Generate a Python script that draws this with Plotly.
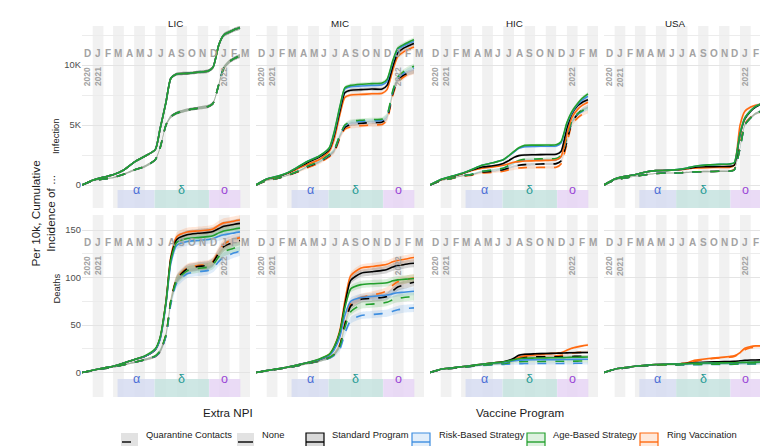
import pandas as pd
import plotly.graph_objects as go
from plotly.subplots import make_subplots

# sample dates of the cumulative curves
dates = ['2020-12-01', '2021-01-01', '2021-02-01', '2021-03-01', '2021-04-01',
         '2021-05-01', '2021-06-01', '2021-07-01', '2021-07-15', '2021-08-01',
         '2021-08-15', '2021-09-01', '2021-10-01', '2021-11-01', '2021-12-01',
         '2021-12-15', '2022-01-01', '2022-01-15', '2022-02-01', '2022-02-15',
         '2022-03-03']

regions = ['LIC', 'MIC', 'HIC', 'USA']
measures = ['Infection', 'Deaths']
programs = ['Standard Program', 'Risk-Based Strategy', 'Age-Based Strategy', 'Ring Vaccination']
npis = ['Quarantine Contacts', 'None']

month_starts = ['2020-12-01', '2021-01-01', '2021-02-01', '2021-03-01', '2021-04-01',
                '2021-05-01', '2021-06-01', '2021-07-01', '2021-08-01', '2021-09-01',
                '2021-10-01', '2021-11-01', '2021-12-01', '2022-01-01', '2022-02-01',
                '2022-03-01', '2022-04-01']
month_letters = ['D', 'J', 'F', 'M', 'A', 'M', 'J', 'J', 'A', 'S', 'O', 'N', 'D', 'J', 'F', 'M']
shaded_months = [1, 3, 5, 7, 9, 11, 13, 15]
year_labels = ['2020', '2021', '2022']
year_month_idx = [0, 1, 13]

variants = ['α', 'δ', 'ο']
variant_start = ['2021-03-14', '2021-06-29', '2021-12-04']
variant_end = ['2021-06-29', '2021-12-04', '2022-03-04']

# ---- infection, per 10k ----
lic_inf = [0, 400, 650, 850, 1250, 1900, 2400, 2950, 4700, 6900, 8900, 9250, 9300, 9400, 9500, 9800, 11700, 12500, 12750, 12950, 13100]
lic_inf_q = [0, 350, 500, 620, 900, 1250, 1550, 2100, 3100, 5000, 5700, 6000, 6250, 6400, 6550, 6800, 8400, 9750, 10300, 10550, 10750]
lic_inf_band = [0, 30, 40, 50, 60, 80, 90, 100, 110, 120, 130, 130, 130, 130, 140, 140, 150, 160, 160, 160, 160]

mic_inf_std = [0, 490, 700, 980, 1450, 1900, 2300, 2950, 4100, 6200, 7700, 7900, 7950, 8000, 8000, 8300, 9900, 11000, 11400, 11600, 11800]
mic_inf_risk = [0, 500, 720, 1000, 1500, 2000, 2400, 3050, 4300, 6500, 8000, 8200, 8250, 8300, 8350, 8650, 10300, 11300, 11600, 11800, 11950]
mic_inf_age = [0, 500, 720, 1000, 1500, 2000, 2400, 3100, 4400, 6600, 8100, 8300, 8400, 8450, 8500, 8800, 10400, 11400, 11700, 11900, 12100]
mic_inf_ring = [0, 480, 690, 950, 1350, 1750, 2100, 2800, 3800, 5900, 7300, 7500, 7550, 7600, 7650, 7950, 9600, 10700, 11100, 11300, 11500]
mic_inf_std_q = [0, 370, 550, 790, 1120, 1550, 1900, 2450, 2800, 4050, 4800, 5050, 5150, 5200, 5250, 5600, 7650, 8750, 9150, 9350, 9500]
mic_inf_risk_q = [0, 380, 560, 800, 1150, 1600, 1950, 2500, 2900, 4150, 4950, 5200, 5300, 5350, 5400, 5750, 7800, 8900, 9300, 9550, 9750]
mic_inf_age_q = [0, 380, 560, 800, 1150, 1600, 1950, 2550, 2950, 4200, 5000, 5300, 5400, 5450, 5500, 5850, 7900, 9000, 9450, 9700, 9900]
mic_inf_ring_q = [0, 360, 540, 770, 1080, 1450, 1800, 2350, 2700, 3900, 4650, 4850, 4950, 5000, 5050, 5400, 7500, 8600, 9000, 9250, 9400]
mic_inf_band = [0, 30, 40, 50, 60, 70, 80, 90, 110, 130, 150, 150, 150, 150, 150, 160, 180, 190, 200, 200, 200]

hic_inf_std = [0, 430, 700, 930, 1250, 1500, 1600, 1800, 2000, 2300, 2450, 2500, 2520, 2540, 2560, 2800, 4750, 5900, 6600, 6900, 7100]
hic_inf_risk = [0, 450, 720, 950, 1300, 1650, 1850, 2100, 2380, 2750, 3050, 3200, 3220, 3230, 3250, 3500, 5100, 6000, 6700, 7100, 7400]
hic_inf_age = [0, 450, 720, 950, 1300, 1650, 1850, 2100, 2400, 2800, 3100, 3300, 3320, 3330, 3350, 3600, 5200, 6100, 6800, 7250, 7600]
hic_inf_ring = [0, 420, 680, 900, 1200, 1400, 1500, 1650, 1750, 1900, 1950, 2000, 2020, 2050, 2100, 2350, 4200, 5600, 6300, 6650, 6900]
hic_inf_std_q = [0, 350, 550, 750, 860, 1080, 1140, 1280, 1400, 1550, 1650, 1700, 1730, 1760, 1780, 2000, 3600, 5200, 5900, 6300, 6550]
hic_inf_risk_q = [0, 350, 550, 750, 900, 1150, 1250, 1400, 1580, 1800, 1950, 2050, 2070, 2090, 2100, 2350, 3900, 5250, 5900, 6150, 6350]
hic_inf_age_q = [0, 350, 550, 750, 900, 1150, 1250, 1400, 1600, 1850, 2050, 2150, 2170, 2190, 2200, 2450, 4000, 5300, 5950, 6200, 6400]
hic_inf_ring_q = [0, 340, 530, 720, 820, 1000, 1050, 1150, 1250, 1350, 1420, 1450, 1460, 1470, 1480, 1750, 3400, 5000, 5600, 5900, 6100]
hic_inf_band = [0, 20, 30, 40, 50, 60, 60, 70, 80, 90, 100, 100, 100, 100, 100, 110, 130, 140, 150, 150, 150]

usa_inf_std = [0, 500, 720, 860, 1080, 1200, 1220, 1270, 1300, 1380, 1450, 1500, 1520, 1540, 1550, 1650, 4200, 5500, 6150, 6500, 6750]
usa_inf_risk = [0, 500, 720, 860, 1080, 1200, 1220, 1280, 1330, 1420, 1520, 1600, 1680, 1720, 1750, 1850, 4300, 5600, 6200, 6550, 6750]
usa_inf_age = [0, 500, 720, 860, 1080, 1200, 1220, 1280, 1330, 1420, 1520, 1600, 1680, 1720, 1750, 1850, 4300, 5600, 6200, 6550, 6750]
usa_inf_ring = [0, 500, 720, 860, 1080, 1200, 1220, 1260, 1290, 1350, 1400, 1430, 1450, 1460, 1470, 1650, 5000, 6150, 6500, 6650, 6750]
usa_inf_q = [0, 400, 600, 720, 850, 950, 1000, 1000, 1020, 1050, 1080, 1100, 1120, 1140, 1150, 1250, 3100, 5000, 5600, 5950, 6150]
usa_inf_ring_q = [0, 400, 600, 720, 850, 950, 1000, 1000, 1020, 1050, 1080, 1100, 1120, 1140, 1150, 1300, 3400, 5100, 5650, 5950, 6100]
usa_inf_band = [0, 20, 30, 30, 40, 40, 40, 50, 50, 50, 60, 60, 60, 60, 60, 70, 90, 100, 100, 100, 100]

# ---- deaths, per 10k ----
lic_dth_std = [0, 2.3, 4.7, 6.5, 10, 13.5, 17, 24, 36, 74, 120, 140, 145, 146.5, 147.5, 148.5, 151.5, 154, 155, 156, 157]
lic_dth_risk = [0, 2.3, 4.7, 6.5, 10, 13.5, 17, 24, 35, 72, 115, 134, 138, 139, 140, 141, 143.5, 145, 146, 147, 148]
lic_dth_age = [0, 2.3, 4.7, 6.5, 10, 13.5, 17.5, 25, 37, 74, 118, 137, 141, 142, 143, 144, 147, 149, 150, 151, 152]
lic_dth_ring = [0, 2.3, 4.7, 6.5, 10, 13.5, 17, 24, 36, 75, 122, 143, 148, 149, 150, 151, 155, 157.5, 158.5, 159.5, 160.5]
lic_dth_std_q = [0, 2, 4, 5.5, 8.2, 10.7, 13.5, 17, 22, 39, 75, 98, 109, 111.5, 113, 116, 126, 132.5, 135.5, 137.5, 139]
lic_dth_risk_q = [0, 2, 4, 5.5, 8.2, 10.7, 13.5, 17, 22, 38, 72, 94, 104, 106, 107.5, 110, 117, 121.5, 124, 126, 128]
lic_dth_age_q = [0, 2, 4, 5.5, 8.2, 10.7, 13.5, 17.5, 23, 40, 75, 97, 107, 109.5, 111, 113.5, 122, 127, 129.5, 131, 133]
lic_dth_ring_q = [0, 2, 4, 5.5, 8.2, 10.7, 13.5, 17, 22, 40, 76, 99, 110, 112.5, 114, 117, 128, 135, 138.5, 140.5, 142]
lic_dth_band = [0, 0.3, 0.5, 0.6, 0.8, 1.0, 1.2, 1.5, 2.0, 3.0, 4.0, 4.5, 4.5, 4.5, 4.5, 4.6, 4.8, 5.0, 5.0, 5.0, 5.0]

mic_dth_std = [0, 2, 3.8, 5.5, 8, 10.5, 13.5, 18.5, 26, 43, 71, 97, 104.5, 106, 107.5, 108.5, 111, 112.5, 113.5, 114.5, 115]
mic_dth_risk = [0, 2, 3.8, 5.5, 8, 10.5, 13.5, 18, 24, 38, 60, 75, 79, 80, 81, 81.5, 83, 84, 84.5, 85, 85.5]
mic_dth_age = [0, 2, 3.8, 5.5, 8, 10.5, 14, 19, 27, 43, 68, 88, 92.5, 93.5, 94, 94.5, 96.5, 97.5, 98, 98.5, 99]
mic_dth_ring = [0, 2, 3.8, 5.5, 8, 10.5, 13.5, 19, 27, 45, 75, 102, 110, 111.5, 113, 114, 116.5, 118, 119, 120, 121]
mic_dth_std_q = [0, 1.8, 3.5, 5, 7, 9.5, 12, 15.5, 19, 29, 50, 70, 77, 78, 79, 80, 86, 90, 92, 93.5, 95]
mic_dth_risk_q = [0, 1.8, 3.5, 5, 7, 9.5, 12, 15, 18, 25, 41, 55, 60, 61, 62, 62.5, 64.5, 66, 67, 67.5, 68]
mic_dth_age_q = [0, 1.8, 3.5, 5, 7, 9.5, 12, 15.5, 19, 28, 47, 64, 71, 72, 73, 74, 76.5, 78, 79, 79.5, 80]
mic_dth_ring_q = [0, 1.8, 3.5, 5, 7, 9.5, 12, 15.5, 19, 30, 52, 72, 79, 81.5, 84, 86, 92, 95.5, 97, 98.5, 99.5]
mic_dth_band = [0, 0.3, 0.4, 0.5, 0.7, 0.9, 1.1, 1.4, 1.8, 2.5, 3.2, 3.6, 3.8, 3.8, 3.8, 3.9, 4.0, 4.1, 4.2, 4.2, 4.2]

hic_dth_std = [0, 3.5, 4.8, 6, 7.3, 8.7, 10, 11.2, 12.5, 15, 18.2, 19.2, 19.7, 20, 20.3, 20.4, 20.6, 20.8, 20.9, 21, 21]
hic_dth_risk = [0, 3.5, 4.8, 6, 7.3, 8.5, 9.7, 10.5, 11.3, 12.3, 13, 13.3, 13.4, 13.5, 13.5, 13.6, 13.7, 13.8, 13.9, 13.9, 14]
hic_dth_age = [0, 3.5, 4.8, 6, 7.3, 8.7, 10, 11, 12, 13.5, 14.5, 15, 15.2, 15.4, 15.5, 15.6, 15.8, 16, 16.1, 16.2, 16.3]
hic_dth_ring = [0, 3.5, 4.8, 6, 7.3, 8.7, 10, 11, 12, 13.5, 16, 17.5, 18.5, 19.5, 20.3, 20.8, 23.4, 25.5, 27, 28, 29]
hic_dth_std_q = [0, 3, 4.3, 5.4, 6.5, 7.7, 8.8, 9.8, 11, 13, 15.5, 16.2, 16.4, 16.5, 16.6, 16.7, 16.8, 16.9, 17, 17, 17]
hic_dth_risk_q = [0, 3, 4.3, 5.4, 6.3, 7.2, 8, 8.5, 8.8, 9.1, 9.3, 9.4, 9.4, 9.5, 9.5, 9.5, 9.6, 9.6, 9.7, 9.7, 9.7]
hic_dth_age_q = [0, 3, 4.3, 5.4, 6.5, 7.5, 8.5, 9.3, 10, 10.8, 11.3, 11.5, 11.6, 11.7, 11.8, 11.8, 11.9, 12, 12, 12.1, 12.1]
hic_dth_ring_q = [0, 3, 4.3, 5.4, 6.5, 7.7, 8.8, 9.6, 10.5, 12, 14.5, 16, 16.5, 17, 17.5, 18, 19.5, 20.5, 21, 21.5, 22]
hic_dth_band = [0, 0.2, 0.3, 0.4, 0.5, 0.6, 0.7, 0.8, 0.9, 1.0, 1.1, 1.2, 1.2, 1.2, 1.2, 1.2, 1.3, 1.3, 1.4, 1.4, 1.4]

usa_dth_std = [0, 3.5, 5.2, 6.6, 7.7, 8.4, 8.7, 9.0, 9.3, 9.7, 10.2, 10.5, 11, 11.3, 11.5, 11.7, 12.3, 12.8, 13.1, 13.2, 13.3]
usa_dth_risk = [0, 3.5, 5.2, 6.6, 7.7, 8.4, 8.7, 8.9, 9.0, 9.2, 9.5, 9.7, 9.9, 10.0, 10.1, 10.2, 10.4, 10.5, 10.6, 10.7, 10.8]
usa_dth_age = [0, 3.5, 5.2, 6.6, 7.7, 8.4, 8.7, 8.9, 9.1, 9.3, 9.6, 9.8, 10, 10.1, 10.2, 10.3, 10.5, 10.7, 10.8, 10.9, 11]
usa_dth_ring = [0, 3.5, 5.2, 6.6, 7.7, 8.4, 8.7, 9.1, 9.5, 10.1, 12.2, 13.3, 14.7, 15.7, 16.8, 17.5, 21, 25.5, 27.3, 28, 28]
usa_dth_std_q = [0, 3.2, 4.8, 6.1, 7.1, 7.7, 8, 8.2, 8.4, 8.6, 8.9, 9.1, 9.3, 9.4, 9.5, 9.6, 10, 10.3, 10.5, 10.6, 10.7]
usa_dth_risk_q = [0, 3.2, 4.8, 6.1, 7.1, 7.6, 7.8, 7.9, 8.0, 8.1, 8.2, 8.3, 8.4, 8.5, 8.5, 8.6, 8.7, 8.8, 8.9, 9.0, 9.0]
usa_dth_age_q = [0, 3.2, 4.8, 6.1, 7.1, 7.6, 7.9, 8.0, 8.1, 8.2, 8.4, 8.5, 8.6, 8.7, 8.7, 8.8, 9, 9.1, 9.2, 9.3, 9.3]
usa_dth_ring_q = [0, 3.2, 4.8, 6.1, 7.1, 7.7, 8, 8.2, 8.5, 9, 11, 12.5, 14.2, 15.2, 16, 16.8, 20, 24, 26, 26.8, 27]
usa_dth_band = [0, 0.2, 0.3, 0.3, 0.4, 0.4, 0.5, 0.5, 0.5, 0.6, 0.6, 0.7, 0.7, 0.7, 0.7, 0.7, 0.8, 0.8, 0.9, 0.9, 0.9]

# (region, measure) -> {(program, npi): values}
S, R, A, V = programs
Q, N = npis
values = {
    ('LIC', 'Infection'): {(S, N): lic_inf, (R, N): lic_inf, (A, N): lic_inf, (V, N): lic_inf,
                           (S, Q): lic_inf_q, (R, Q): lic_inf_q, (A, Q): lic_inf_q, (V, Q): lic_inf_q},
    ('MIC', 'Infection'): {(S, N): mic_inf_std, (R, N): mic_inf_risk, (A, N): mic_inf_age, (V, N): mic_inf_ring,
                           (S, Q): mic_inf_std_q, (R, Q): mic_inf_risk_q, (A, Q): mic_inf_age_q, (V, Q): mic_inf_ring_q},
    ('HIC', 'Infection'): {(S, N): hic_inf_std, (R, N): hic_inf_risk, (A, N): hic_inf_age, (V, N): hic_inf_ring,
                           (S, Q): hic_inf_std_q, (R, Q): hic_inf_risk_q, (A, Q): hic_inf_age_q, (V, Q): hic_inf_ring_q},
    ('USA', 'Infection'): {(S, N): usa_inf_std, (R, N): usa_inf_risk, (A, N): usa_inf_age, (V, N): usa_inf_ring,
                           (S, Q): usa_inf_q, (R, Q): usa_inf_q, (A, Q): usa_inf_q, (V, Q): usa_inf_ring_q},
    ('LIC', 'Deaths'): {(S, N): lic_dth_std, (R, N): lic_dth_risk, (A, N): lic_dth_age, (V, N): lic_dth_ring,
                        (S, Q): lic_dth_std_q, (R, Q): lic_dth_risk_q, (A, Q): lic_dth_age_q, (V, Q): lic_dth_ring_q},
    ('MIC', 'Deaths'): {(S, N): mic_dth_std, (R, N): mic_dth_risk, (A, N): mic_dth_age, (V, N): mic_dth_ring,
                        (S, Q): mic_dth_std_q, (R, Q): mic_dth_risk_q, (A, Q): mic_dth_age_q, (V, Q): mic_dth_ring_q},
    ('HIC', 'Deaths'): {(S, N): hic_dth_std, (R, N): hic_dth_risk, (A, N): hic_dth_age, (V, N): hic_dth_ring,
                        (S, Q): hic_dth_std_q, (R, Q): hic_dth_risk_q, (A, Q): hic_dth_age_q, (V, Q): hic_dth_ring_q},
    ('USA', 'Deaths'): {(S, N): usa_dth_std, (R, N): usa_dth_risk, (A, N): usa_dth_age, (V, N): usa_dth_ring,
                        (S, Q): usa_dth_std_q, (R, Q): usa_dth_risk_q, (A, Q): usa_dth_age_q, (V, Q): usa_dth_ring_q},
}
bands = {
    ('LIC', 'Infection'): lic_inf_band, ('MIC', 'Infection'): mic_inf_band,
    ('HIC', 'Infection'): hic_inf_band, ('USA', 'Infection'): usa_inf_band,
    ('LIC', 'Deaths'): lic_dth_band, ('MIC', 'Deaths'): mic_dth_band,
    ('HIC', 'Deaths'): hic_dth_band, ('USA', 'Deaths'): usa_dth_band,
}

prog_colors = {S: '#000000', R: '#3e8ee0', A: '#23a02d', V: '#ff6a10'}
draw_order = [V, S, R, A]
variant_fill = ['#d6dcf1', '#c6e3df', '#e6d5f5']
variant_text = ['#4c6fd6', '#1f9a94', '#9a45d6']

W, H = 768, 446
def px(x):
    return x / W
def py(y):
    return 1 - y / H

def rgba(hexcol, a):
    h = hexcol.lstrip('#')
    return 'rgba(%d,%d,%d,%s)' % (int(h[0:2], 16), int(h[2:4], 16), int(h[4:6], 16), a)

col_px = [(74, 242), (248, 416), (422, 590), (596, 763)]
row_px = [(18, 200), (207, 389)]
y_ranges = {'Infection': [-1917, 13250], 'Deaths': [-25.8, 165.8]}
y_ticks = {'Infection': ([0, 5000, 10000], ['0', '5K', '10K'], [2500, 7500, 12500]),
           'Deaths': ([0, 50, 100, 150], ['0', '50', '100', '150'], [25, 75, 125])}

FONT = 'Liberation Sans'
SPL = dict(shape='spline', smoothing=0.6)

fig = make_subplots(rows=2, cols=4)
month_mid = [pd.Timestamp(a) + (pd.Timestamp(b) - pd.Timestamp(a)) / 2
             for a, b in zip(month_starts[:-1], month_starts[1:])]

shapes = []
annotations = []
for r, meas in enumerate(measures):
    for c, reg in enumerate(regions):
        n = r * 4 + c + 1
        sfx = '' if n == 1 else str(n)
        xr, yr = 'x' + sfx, 'y' + sfx + ' domain'
        data = values[(reg, meas)]
        band = bands[(reg, meas)]
        # ribbons
        for prog in draw_order:
            for npi in npis:
                y = data[(prog, npi)]
                lo = [v - b for v, b in zip(y, band)]
                hi = [v + b for v, b in zip(y, band)]
                fig.add_trace(go.Scatter(x=dates, y=lo, mode='lines', line=dict(width=0, **SPL),
                                         hoverinfo='skip', showlegend=False), row=r + 1, col=c + 1)
                fig.add_trace(go.Scatter(x=dates, y=hi, mode='lines', line=dict(width=0, **SPL),
                                         fill='tonexty', fillcolor=rgba(prog_colors[prog], 0.16),
                                         hoverinfo='skip', showlegend=False), row=r + 1, col=c + 1)
        # lines
        for npi in npis:
            for prog in draw_order:
                fig.add_trace(go.Scatter(
                    x=dates, y=data[(prog, npi)], mode='lines',
                    line=dict(color=prog_colors[prog], width=1.6,
                              dash='dash' if npi == Q else 'solid', **SPL),
                    name=prog, hoverinfo='skip', showlegend=False), row=r + 1, col=c + 1)

        # month stripes
        for i in shaded_months:
            shapes.append(dict(type='rect', xref=xr, yref=yr, x0=month_starts[i], x1=month_starts[i + 1],
                               y0=0, y1=1, fillcolor='#f1f1f1', line_width=0, layer='below'))
        # variant periods
        for v, vs, ve, vf, vt in zip(variants, variant_start, variant_end, variant_fill, variant_text):
            shapes.append(dict(type='rect', xref=xr, yref=yr, x0=vs, x1=ve, y0=0, y1=0.099,
                               fillcolor=vf, opacity=0.85, line_width=0, layer='below'))
            mid = pd.Timestamp(vs) + (pd.Timestamp(ve) - pd.Timestamp(vs)) / 2
            annotations.append(dict(x=mid, y=0.05, xref=xr, yref=yr, text=v, showarrow=False,
                                    font=dict(family=FONT, size=12.5, color=vt)))
        # month letters and years
        for m, lab in zip(month_mid, month_letters):
            annotations.append(dict(x=m, y=0.885, xref=xr, yref=yr, text=lab, showarrow=False,
                                    borderpad=0, font=dict(family=FONT, size=10, color='#a3a3a3', weight='bold')))
        for yl, mi in zip(year_labels, year_month_idx):
            annotations.append(dict(x=month_mid[mi], y=0.778, xref=xr, yref=yr, text=yl, showarrow=False,
                                    borderpad=0, textangle=-90,
                                    font=dict(family=FONT, size=8.5, color='#a3a3a3', weight='bold')))

        tv, tt, mv = y_ticks[meas]
        fig.update_xaxes(row=r + 1, col=c + 1, range=['2020-12-01', '2022-04-01'], showgrid=False,
                         showticklabels=False, zeroline=False, ticks='',
                         domain=[px(col_px[c][0]), px(col_px[c][1])])
        fig.update_yaxes(row=r + 1, col=c + 1, range=y_ranges[meas], tickvals=tv, ticktext=tt,
                         showticklabels=(c == 0), zeroline=False, gridcolor='#e4e4e4', gridwidth=1,
                         minor=dict(tickvals=mv, showgrid=True, gridcolor='#ececec', gridwidth=0.6),
                         tickfont=dict(family=FONT, size=9.4, color='#4d4d4d'), automargin=False,
                         domain=[py(row_px[r][1]), py(row_px[r][0])])

# strip titles
for c, reg in enumerate(regions):
    annotations.append(dict(x=px((col_px[c][0] + col_px[c][1]) / 2), y=py(8), xref='paper', yref='paper',
                            text=reg, showarrow=False, font=dict(family=FONT, size=9.8, color='#1a1a1a')))
for r, meas in enumerate(measures):
    annotations.append(dict(x=px(40), y=py((row_px[r][0] + row_px[r][1]) / 2), xref='paper', yref='paper',
                            text=meas, textangle=-90, showarrow=False,
                            font=dict(family=FONT, size=9.4, color='#1a1a1a')))
annotations.append(dict(x=px(18), y=py(205), xref='paper', yref='paper',
                        text='Per 10k, Cumulative<br>Incidence of ...', textangle=-90, showarrow=False,
                        font=dict(family=FONT, size=11.8, color='#1a1a1a')))

# legend drawn by hand
ly0, ly1, lyc = 425, 443, 434
annotations.append(dict(x=px(193), y=py(413), xref='paper', yref='paper', text='Extra NPI',
                        showarrow=False, font=dict(family=FONT, size=11.6, color='#1a1a1a')))
annotations.append(dict(x=px(512), y=py(413), xref='paper', yref='paper', text='Vaccine Program',
                        showarrow=False, font=dict(family=FONT, size=11.6, color='#1a1a1a')))
npi_keys = [(113, 136, 'dash'), (229, 252, 'solid')]
for (kx, tx, dash), npi in zip(npi_keys, npis):
    shapes.append(dict(type='rect', xref='paper', yref='paper', x0=px(kx), x1=px(kx + 17),
                       y0=py(ly1), y1=py(ly0), fillcolor='#e2e2e2', line_width=0))
    shapes.append(dict(type='line', xref='paper', yref='paper', x0=px(kx + 1), x1=px(kx + 16),
                       y0=py(lyc), y1=py(lyc), line=dict(color='black', width=1.4, dash=dash)))
    annotations.append(dict(x=px(tx), y=py(lyc), xref='paper', yref='paper', text=npi, xanchor='left',
                            showarrow=False, font=dict(family=FONT, size=9.4, color='#1a1a1a')))
prog_keys = [(298, 322), (404, 429), (519, 543), (632, 657)]
for (kx, tx), prog in zip(prog_keys, programs):
    col = prog_colors[prog]
    shapes.append(dict(type='rect', xref='paper', yref='paper', x0=px(kx), x1=px(kx + 18),
                       y0=py(ly1), y1=py(ly0), fillcolor=rgba(col, 0.15), line=dict(color=col, width=1.2)))
    shapes.append(dict(type='line', xref='paper', yref='paper', x0=px(kx), x1=px(kx + 18),
                       y0=py(lyc), y1=py(lyc), line=dict(color=col, width=1.4)))
    annotations.append(dict(x=px(tx), y=py(lyc), xref='paper', yref='paper', text=prog, xanchor='left',
                            showarrow=False, font=dict(family=FONT, size=9.4, color='#1a1a1a')))

fig.update_layout(
    width=W, height=H,
    margin=dict(l=0, r=0, t=0, b=0),
    plot_bgcolor='white', paper_bgcolor='white',
    shapes=shapes, annotations=annotations,
    showlegend=False,
    font=dict(family=FONT),
)
fig.write_html('out.html')
